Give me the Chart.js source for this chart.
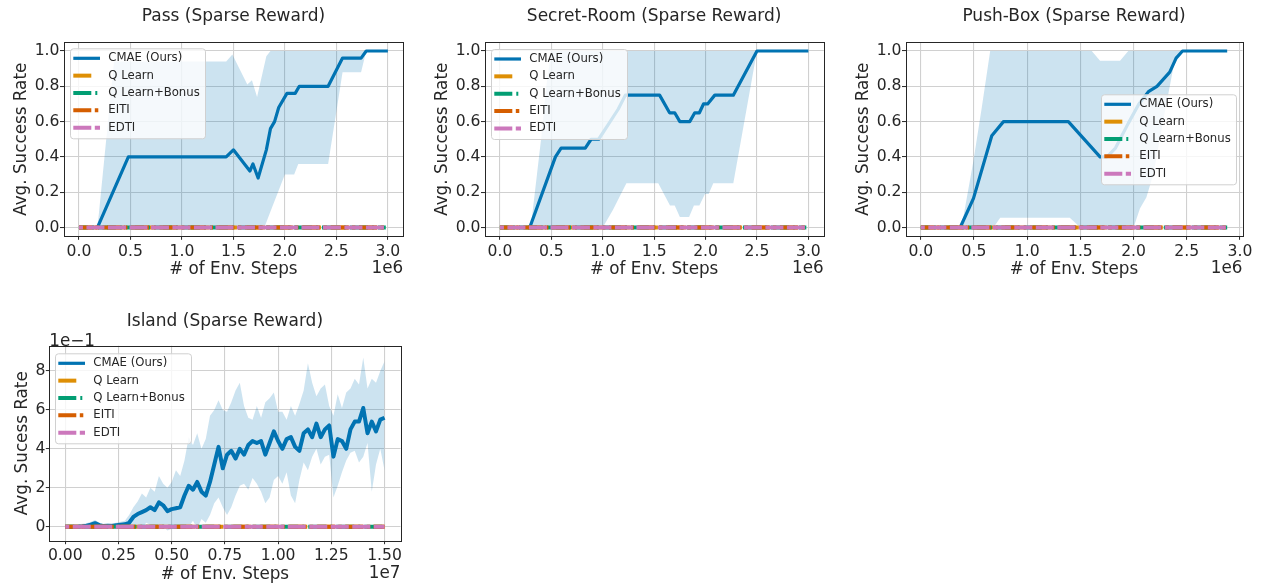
<!DOCTYPE html>
<html><head><meta charset="utf-8">
<script src="https://cdn.jsdelivr.net/npm/chart.js@4.4.0/dist/chart.umd.min.js"></script>
<style>
html,body{margin:0;padding:0;background:#fff;}
#wrap{position:relative;width:1262px;height:586px;overflow:hidden;background:#fff;}
canvas{position:absolute;}
</style></head><body>
<div id="wrap">
<canvas id="c1" width="420" height="290" style="left:0;top:0"></canvas>
<canvas id="c2" width="420" height="290" style="left:420px;top:0"></canvas>
<canvas id="c3" width="422" height="290" style="left:840px;top:0"></canvas>
<canvas id="c4" width="420" height="286" style="left:0;top:300px"></canvas>
</div>
<script>
// ---------------- DATA ----------------
const seriesNames = ['CMAE (Ours)', 'Q Learn', 'Q Learn+Bonus', 'EITI', 'EDTI'];

const topXTicks = [0, 0.5, 1.0, 1.5, 2.0, 2.5, 3.0];
const topXTickLabels = ['0.0', '0.5', '1.0', '1.5', '2.0', '2.5', '3.0'];
const topYTicks = [0, 0.2, 0.4, 0.6, 0.8, 1.0];
const topYTickLabels = ['0.0', '0.2', '0.4', '0.6', '0.8', '1.0'];
const islXTicks = [0, 0.25, 0.5, 0.75, 1.0, 1.25, 1.5];
const islXTickLabels = ['0.00', '0.25', '0.50', '0.75', '1.00', '1.25', '1.50'];
const islYTicks = [0, 2, 4, 6, 8];
const islYTickLabels = ['0', '2', '4', '6', '8'];

// Pass (x in 1e6 steps)
const passX    = [0, 0.18, 0.48, 1.43, 1.50, 1.66, 1.69, 1.74, 1.82, 1.86, 1.90, 1.94, 2.02, 2.10, 2.14, 2.42, 2.56, 2.74, 2.79, 3.0];
const passMean = [0, 0,    0.40, 0.40, 0.44, 0.32, 0.36, 0.28, 0.44, 0.56, 0.60, 0.68, 0.76, 0.76, 0.80, 0.80, 0.96, 0.96, 1.0, 1.0];
const passBandX = [0, 0.18, 0.34, 0.48, 1.43, 1.49, 1.635, 1.68, 1.73, 1.80, 1.82, 1.86, 2.0, 2.09, 2.13, 2.42, 2.56, 2.74, 2.79, 3.0];
const passUpper = [0, 0,    0.94, 0.94, 0.94, 0.98, 0.81,  0.835, 0.74, 0.92, 0.97, 1.0, 1.0, 1.0, 1.0, 1.0, 1.0, 1.0, 1.0, 1.0];
const passLower = [0, 0,    0,    0,    0,    0,    0,     0,    0,    0,    0.03, 0.09, 0.30, 0.30, 0.36, 0.36, 0.88, 0.88, 1.0, 1.0];
const passBaseX = [0, 2.98];
const passBase  = [0, 0];

// Secret-Room (x in 1e6 steps)
const roomX    = [0, 0.29, 0.54, 0.595, 0.83, 0.887, 0.96, 1.05, 1.15, 1.22, 1.553, 1.65, 1.70, 1.75, 1.846, 1.895, 1.94, 1.98, 2.02, 2.09, 2.27, 2.50, 3.0];
const roomMean = [0, 0,    0.40, 0.45, 0.45, 0.50, 0.50, 0.58, 0.67, 0.75, 0.75, 0.65, 0.65, 0.60, 0.60, 0.65, 0.65, 0.70, 0.70, 0.75, 0.75, 1.0, 1.0];
const roomBandX = [0, 0.29, 0.30, 0.40, 0.45, 0.50, 1.0, 1.1, 1.23, 1.54, 1.654, 1.70, 1.75, 1.84, 1.887, 1.94, 1.994, 2.03, 2.075, 2.27, 2.50, 3.0];
const roomUpper = [0, 0,    0,    0.5,  0.8,  1.0,  1.0, 1.0, 1.0,  1.0,  1.0,   1.0,  1.0,  1.0,  1.0,   1.0,  1.0,   1.0,  1.0,   1.0,  1.0,  1.0];
const roomLower = [0, 0,    0,    0,    0,    0,    0,   0.1, 0.25, 0.25, 0.125, 0.125, 0.06, 0.06, 0.125, 0.125, 0.19, 0.19, 0.25, 0.25, 1.0, 1.0];
const roomBaseX = [0, 2.98];
const roomBase  = [0, 0];

// Push-Box (x in 1e6 steps)
const boxX    = [0, 0.37, 0.495, 0.667, 0.777, 1.387, 1.685, 1.75, 1.83, 1.95, 2.05, 2.14, 2.22, 2.34, 2.40, 2.46, 2.88];
const boxMean = [0, 0,    0.165, 0.52,  0.60,  0.60,  0.40,  0.40, 0.45, 0.59, 0.70, 0.77, 0.80, 0.88, 0.96, 1.0, 1.0];
const boxBandX = [0, 0.37, 0.40, 0.495, 0.573, 0.652, 0.683, 0.746, 1.40, 1.50, 1.607, 1.685, 1.873, 1.95, 2.0, 2.06, 2.12, 2.19, 2.28, 2.375, 2.41, 2.46, 2.88];
const boxUpper = [0, 0,    0.06, 0.38,  0.68,  1.0,   1.0,   1.0,   1.0,  1.0,  1.0,   0.945, 0.945, 1.0,  1.0, 1.0,  1.0,  1.0,  1.0,  1.0,   1.0,  1.0,  1.0];
const boxLower = [0, 0,    0,    0,     0,     0,     0,     0.055, 0.055, 0,   0,     0,     0,     0,    0,   0.108, 0.17, 0.31, 0.61, 0.91, 0.96, 1.0, 1.0];
const boxBaseX = [0, 2.88];
const boxBase  = [0, 0];

// Island (x in 1e7 steps, y in 1e-1)
const islX = [0.00,0.02,0.04,0.06,0.08,0.10,0.12,0.14,0.16,0.18,0.20,0.22,0.24,0.26,0.28,0.30,0.32,0.34,0.36,0.38,
              0.40,0.42,0.44,0.46,0.48,0.50,0.52,0.54,0.56,0.58,0.60,0.62,0.64,0.66,0.68,0.70,0.72,0.74,0.76,0.78,
              0.80,0.82,0.84,0.86,0.88,0.90,0.92,0.94,0.96,0.98,1.00,1.02,1.04,1.06,1.08,1.10,1.12,1.14,1.16,1.18,
              1.20,1.22,1.24,1.26,1.28,1.30,1.32,1.34,1.36,1.38,1.40,1.42,1.44,1.46,1.48,1.50];
const islMean = [0,0,0,0,0.02,0.05,0.10,0.18,0.08,0.03,0.05,0.04,0.08,0.10,0.12,0.20,0.50,0.65,0.75,0.85,
                 1.0,0.85,1.25,1.10,0.80,0.90,0.95,1.0,1.6,2.1,1.9,2.3,1.8,1.6,2.3,3.2,4.1,3.0,3.7,3.9,
                 3.5,4.0,3.7,4.2,4.4,4.3,4.4,3.7,4.3,4.9,4.4,4.0,4.5,4.6,4.1,3.9,4.8,5.0,4.6,5.3,
                 4.6,5.0,5.2,3.6,4.5,4.4,4.0,5.0,5.4,5.4,6.1,4.8,5.4,4.9,5.5,5.6];
const islUpper = [0.05,0.08,0.10,0.12,0.15,0.18,0.25,0.35,0.20,0.15,0.15,0.18,0.20,0.25,0.30,0.60,1.0,1.3,1.7,1.5,
                  2.0,1.8,2.6,2.2,2.0,2.3,2.9,2.6,3.4,4.6,4.2,4.8,4.0,4.5,5.7,6.0,6.5,6.0,5.9,6.4,
                  7.0,7.4,6.2,5.6,5.5,6.2,5.6,6.4,6.6,6.9,5.9,5.9,5.5,6.2,5.7,6.3,7.0,8.4,7.4,6.7,
                  7.1,7.3,6.2,5.7,6.8,6.1,6.9,7.1,7.6,7.3,8.7,7.1,7.6,7.4,8.0,8.5];
const islLower = [-0.05,-0.05,-0.05,-0.05,-0.05,-0.05,-0.05,0.0,-0.05,-0.05,-0.05,-0.05,-0.05,-0.05,-0.05,-0.05,0.0,0.1,-0.1,0.2,
                  0.1,-0.1,0.1,0.0,-0.2,-0.1,0.0,-0.1,0.1,0.0,0.3,-0.1,0.4,0.2,0.6,1.2,1.5,1.0,0.6,1.0,
                  1.6,2.1,2.2,1.9,2.5,2.2,1.8,1.2,1.5,2.4,2.6,2.2,2.8,1.6,1.2,2.4,3.3,2.9,3.6,4.0,
                  3.2,3.6,3.7,1.5,2.1,2.8,3.4,3.8,3.9,3.3,3.6,4.3,1.8,3.2,4.0,2.9];
const islBaseX = [0, 1.5];
const islBase  = [0, 0];

// ---------------- STYLE ----------------
const FAM = '"DejaVu Sans", sans-serif';
const TXT = '#262626';
const COLORS = ['#0173b2', '#de8f05', '#029e73', '#d55e00', '#cc78bc'];
const DASHES = [[], [18, 10], [18, 4, 2, 4], [18, 3.5, 3.5, 3.5], [18, 3.5]];
const PLOT_OFFSETS = [0, 0, 9, 5, 14];
const WIDTHS = [3.2, 4, 4, 4, 4];
const BAND = 'rgba(1,115,178,0.2)';
const TICK_SIZE = 15.6, LAB_SIZE = 16.8, TITLE_SIZE = 17, LEG_SIZE = 11.7;

Chart.defaults.font.family = FAM;
Chart.defaults.color = TXT;

function pts(xs, ys) { return xs.map((x, i) => ({x: x, y: ys[i]})); }

const decor = {
  id: 'decor',
  afterDraw(chart, args, o) {
    const ctx = chart.ctx, a = chart.chartArea;
    ctx.save();
    ctx.strokeStyle = TXT; ctx.lineWidth = 1; ctx.setLineDash([]);
    ctx.strokeRect(Math.round(a.left) + 0.5, Math.round(a.top) + 0.5, Math.round(a.right) - Math.round(a.left), Math.round(a.bottom) - Math.round(a.top));
    ctx.fillStyle = TXT; ctx.textBaseline = 'middle';
    ctx.font = LAB_SIZE + 'px ' + FAM;
    (o.texts || []).forEach(t => { ctx.textAlign = t.align; ctx.fillText(t.text, t.x, t.y); });
    const L = o.legend;
    const r = 3, x0 = L.x + 0.5, y0 = L.y + 0.5, w = L.w, h = L.h;
    ctx.beginPath();
    ctx.moveTo(x0 + r, y0); ctx.lineTo(x0 + w - r, y0); ctx.arcTo(x0 + w, y0, x0 + w, y0 + r, r);
    ctx.lineTo(x0 + w, y0 + h - r); ctx.arcTo(x0 + w, y0 + h, x0 + w - r, y0 + h, r);
    ctx.lineTo(x0 + r, y0 + h); ctx.arcTo(x0, y0 + h, x0, y0 + h - r, r);
    ctx.lineTo(x0, y0 + r); ctx.arcTo(x0, y0, x0 + r, y0, r); ctx.closePath();
    ctx.fillStyle = 'rgba(255,255,255,0.8)'; ctx.fill();
    ctx.strokeStyle = '#d0d0d0'; ctx.lineWidth = 1; ctx.stroke();
    const items = chart.data.datasets.filter(d => !d.band);
    items.forEach((d, i) => {
      const y = L.y + 10 + i * 17.35;
      ctx.beginPath(); ctx.setLineDash(d.borderDash || []); ctx.lineDashOffset = 0;
      ctx.strokeStyle = d.borderColor; ctx.lineWidth = d.legendWidth || d.borderWidth; ctx.lineCap = 'butt';
      ctx.moveTo(L.x + 3.3, y); ctx.lineTo(L.x + 30, y); ctx.stroke();
      ctx.setLineDash([]);
      ctx.fillStyle = TXT; ctx.font = LEG_SIZE + 'px ' + FAM; ctx.textAlign = 'left'; ctx.textBaseline = 'middle';
      ctx.fillText(d.label, L.x + 38.3, y);
    });
    ctx.restore();
  }
};

function build(id, P) {
  const lhT = TITLE_SIZE * 1.2, lhL = LAB_SIZE * 1.2;
  const A = P.area;
  const datasets = [
    {band: true, label: 'upper', data: pts(P.bandX, P.upper), borderWidth: 0, borderColor: 'rgba(0,0,0,0)', backgroundColor: BAND, fill: '+1', pointRadius: 0, order: 10},
    {band: true, label: 'lower', data: pts(P.bandX, P.lower), borderWidth: 0, borderColor: 'rgba(0,0,0,0)', fill: false, pointRadius: 0, order: 11},
    {label: seriesNames[0], data: pts(P.meanX, P.mean), borderColor: COLORS[0], borderWidth: P.meanWidth || WIDTHS[0], legendWidth: WIDTHS[0],
     borderDash: DASHES[0], pointRadius: 0, fill: false, borderJoinStyle: 'round', order: 5},
  ];
  for (let k = 1; k < 5; k++) {
    datasets.push({label: seriesNames[k], data: pts(P.baseX, P.base), borderColor: COLORS[k], borderWidth: WIDTHS[k],
      borderDash: DASHES[k], borderDashOffset: PLOT_OFFSETS[k], pointRadius: 0, fill: false, order: 5 - k});
  }
  return new Chart(document.getElementById(id), {
    type: 'line',
    data: {datasets: datasets},
    plugins: [decor],
    options: {
      responsive: false, animation: false, events: [],
      layout: {padding: {left: 0, top: 0, bottom: 0, right: P.W - A.r}},
      plugins: {
        legend: {display: false}, tooltip: {enabled: false},
        title: {display: true, text: P.title, fullSize: false, color: TXT,
                font: {size: TITLE_SIZE, weight: 'normal', lineHeight: 1.2},
                padding: {top: P.titleMid - lhT / 2, bottom: A.t - (P.titleMid - lhT / 2) - lhT}},
        decor: {legend: P.legend, texts: P.texts}
      },
      scales: {
        x: {type: 'linear', min: P.xMin, max: P.xMax,
            afterFit: s => { s.height = P.H - A.b; },
            afterBuildTicks: s => { s.ticks = P.xTicks.map(v => ({value: v})); },
            ticks: {autoSkip: false, maxRotation: 0, minRotation: 0, padding: P.xTickPad, color: TXT,
                    font: {size: TICK_SIZE, lineHeight: 1.2}, callback: (v, i) => P.xTickLabels[i]},
            grid: {color: '#d0d0d0', lineWidth: 1.1, tickColor: TXT, tickLength: 3.5, tickWidth: 1},
            border: {display: false},
            title: {display: true, text: '# of Env. Steps', color: TXT, font: {size: LAB_SIZE, lineHeight: 1.2},
                    padding: {top: 0, bottom: P.H - P.xlabMid - lhL / 2}}},
        y: {type: 'linear', min: P.yMin, max: P.yMax,
            afterFit: s => { s.width = A.l; },
            afterBuildTicks: s => { s.ticks = P.yTicks.map(v => ({value: v})); },
            ticks: {autoSkip: false, padding: 0.5, color: TXT,
                    font: {size: TICK_SIZE, lineHeight: 1.2}, callback: (v, i) => P.yTickLabels[i]},
            grid: {color: '#d0d0d0', lineWidth: 1.1, tickColor: TXT, tickLength: 3.5, tickWidth: 1},
            border: {display: false},
            title: {display: true, text: P.ylabel, color: TXT, font: {size: LAB_SIZE, lineHeight: 1.2},
                    padding: {top: P.ylabCx - lhL / 2, bottom: 0}}}
      }
    }
  });
}

const topCommon = {H: 290, xMin: -0.15, xMax: 3.15, yMin: -0.05, yMax: 1.05,
  xTicks: topXTicks, xTickLabels: topXTickLabels, yTicks: topYTicks, yTickLabels: topYTickLabels,
  titleMid: 16.6, xlabMid: 270, xTickPad: 2.8, ylabel: 'Avg. Success Rate'};

build('c1', Object.assign({}, topCommon, {W: 420, area: {l: 63.5, t: 42.2, r: 403.3, b: 236.3},
  title: 'Pass (Sparse Reward)', ylabCx: 22,
  meanX: passX, mean: passMean, bandX: passBandX, upper: passUpper, lower: passLower, baseX: passBaseX, base: passBase,
  legend: {x: 70, y: 48.3, w: 135, h: 90}, texts: [{text: '1e6', x: 403.3, y: 268.5, align: 'right'}]}));

build('c2', Object.assign({}, topCommon, {W: 420, area: {l: 64.5, t: 42.2, r: 403.8, b: 236.3},
  title: 'Secret-Room (Sparse Reward)', ylabCx: 23,
  meanX: roomX, mean: roomMean, bandX: roomBandX, upper: roomUpper, lower: roomLower, baseX: roomBaseX, base: roomBase,
  legend: {x: 71, y: 49, w: 136, h: 90}, texts: [{text: '1e6', x: 403.8, y: 268.5, align: 'right'}]}));

build('c3', Object.assign({}, topCommon, {W: 422, area: {l: 65.5, t: 42.2, r: 402.5, b: 236.3},
  xMin: -0.144, xMax: 3.024,
  title: 'Push-Box (Sparse Reward)', ylabCx: 24,
  meanX: boxX, mean: boxMean, bandX: boxBandX, upper: boxUpper, lower: boxLower, baseX: boxBaseX, base: boxBase,
  legend: {x: 261, y: 94.3, w: 135, h: 90}, texts: [{text: '1e6', x: 402.5, y: 268.5, align: 'right'}]}));

build('c4', {W: 420, H: 286, area: {l: 49.3, t: 45.7, r: 400.5, b: 240.7},
  xMin: -0.075, xMax: 1.575, yMin: -0.72, yMax: 9.3,
  xTicks: islXTicks, xTickLabels: islXTickLabels, yTicks: islYTicks, yTickLabels: islYTickLabels,
  titleMid: 21.6, xlabMid: 274.5, xTickPad: 2.2, ylabel: 'Avg. Sucess Rate', meanWidth: 4,
  title: 'Island (Sparse Reward)', ylabCx: 22.5,
  meanX: islX, mean: islMean, bandX: islX, upper: islUpper, lower: islLower, baseX: islBaseX, base: islBase,
  legend: {x: 55, y: 53.3, w: 136, h: 90},
  texts: [{text: '1e7', x: 400.5, y: 273.5, align: 'right'}, {text: '1e\u22121', x: 49.3, y: 41.5, align: 'left'}]});
</script>
</body></html>
